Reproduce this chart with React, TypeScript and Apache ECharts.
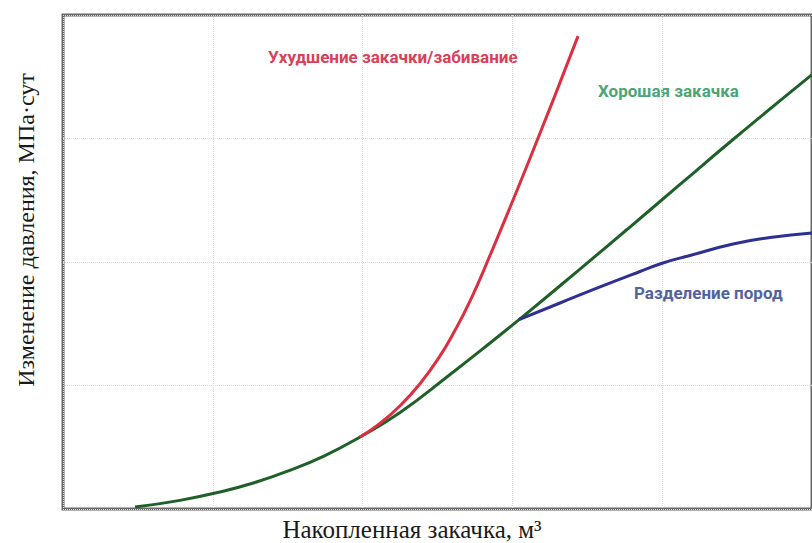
import React, { useEffect, useRef } from "react";
import * as echarts from "echarts";

// Data (axis units: x 0..5, y 0..4 — no tick labels in the original)
const goodX = [0.481, 0.781, 1.048, 1.282, 1.495, 1.749, 1.983, 2.25, 2.584, 2.851, 3.118, 3.451, 3.765, 4.119, 4.473, 5.0];
const goodY = [0.016, 0.07, 0.138, 0.215, 0.304, 0.433, 0.583, 0.781, 1.089, 1.344, 1.606, 1.943, 2.263, 2.628, 2.992, 3.517];

const badX = [1.983, 2.116, 2.25, 2.383, 2.517, 2.617, 2.717, 2.817, 3.117, 3.438];
const badY = [0.583, 0.693, 0.836, 1.014, 1.24, 1.447, 1.684, 1.957, 2.838, 3.829];

const sepX = [3.044, 3.318, 3.585, 3.852, 4.005, 4.186, 4.473, 4.72, 5.0];
const sepY = [1.534, 1.668, 1.798, 1.923, 1.992, 2.053, 2.146, 2.198, 2.235];

const xTitle = "Накопленная закачка, м³";
const yTitle = "Изменение давления, МПа·сут";
const labelBad = "Ухудшение закачки/забивание";
const labelGood = "Хорошая закачка";
const labelSep = "Разделение пород";

const zip = (xs: number[], ys: number[]) => xs.map((x, i) => [x, ys[i]]);

export default function App() {
  const ref = useRef<HTMLDivElement>(null);
  useEffect(() => {
    if (!ref.current) return;
    const chart = echarts.init(ref.current, null, { renderer: "svg" });
    const labelFont = "bold 17px Roboto, sans-serif";
    const lineSeries = (name: string, xs: number[], ys: number[], color: string, z: number) => ({
      type: "line",
      name,
      data: zip(xs, ys),
      smooth: 0.5,
      symbol: "none",
      lineStyle: { color, width: 3 },
      z,
    });
    chart.setOption({
      animation: false,
      backgroundColor: "#ffffff",
      grid: {
        left: 63,
        top: 15,
        width: 749,
        height: 494,
        show: true,
        borderColor: "#686868",
        borderWidth: 3,
        backgroundColor: "transparent",
      },
      xAxis: {
        type: "value",
        min: 0,
        max: 5,
        interval: 1,
        axisLine: { show: false },
        axisTick: { show: false },
        axisLabel: { show: false },
        splitLine: { show: true, lineStyle: { color: "#dadada", type: "dotted", width: 1 } },
      },
      yAxis: {
        type: "value",
        min: 0,
        max: 4,
        interval: 1,
        axisLine: { show: false },
        axisTick: { show: false },
        axisLabel: { show: false },
        splitLine: { show: true, lineStyle: { color: "#dadada", type: "dotted", width: 1 } },
      },
      series: [
        lineSeries(labelGood, goodX, goodY, "#1f5f28", 2),
        lineSeries(labelBad, badX, badY, "#dc2f40", 3),
        lineSeries(labelSep, sepX, sepY, "#2e3190", 4),
      ],
      graphic: [
        {
          type: "text",
          x: 268,
          y: 57,
          style: { text: labelBad, fill: "#d9405a", font: labelFont, textVerticalAlign: "middle" },
        },
        {
          type: "text",
          x: 598,
          y: 91,
          style: { text: labelGood, fill: "#4aa676", font: labelFont, textVerticalAlign: "middle" },
        },
        {
          type: "text",
          x: 634,
          y: 293,
          style: { text: labelSep, fill: "#52629f", font: labelFont, textVerticalAlign: "middle" },
        },
        {
          type: "text",
          x: 412,
          y: 529,
          style: {
            text: xTitle,
            fill: "#1a1a1a",
            font: "25px 'Liberation Serif', serif",
            textAlign: "center",
            textVerticalAlign: "middle",
          },
        },
        {
          type: "text",
          x: 26,
          y: 230,
          rotation: Math.PI / 2,
          style: {
            text: yTitle,
            fill: "#1a1a1a",
            font: "24px 'Liberation Serif', serif",
            textAlign: "center",
            textVerticalAlign: "middle",
          },
        },
      ],
    });
    return () => chart.dispose();
  }, []);
  return (
    <div
      ref={ref}
      style={{ position: "fixed", left: 0, top: 0, width: 812, height: 543 }}
    />
  );
}
